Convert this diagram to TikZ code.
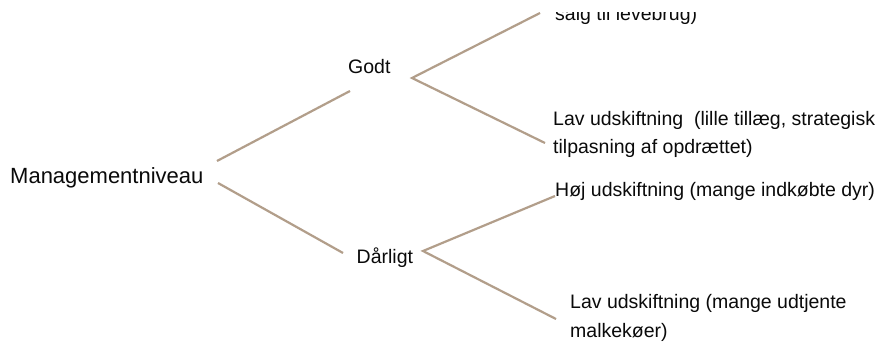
\documentclass[tikz,border=0pt]{standalone}
\usepackage{fontspec}
\setmainfont{Liberation Sans}
\definecolor{branch}{RGB}{178,158,138}
\definecolor{labeltext}{RGB}{10,10,10}
\begin{document}
\begin{tikzpicture}[x=1pt,y=-1pt,
  edge/.style={draw=branch,line width=2.2pt},
  lbl/.style={anchor=base west,inner sep=0pt,text=labeltext,font=\fontsize{19.5}{23}\selectfont},
  rootlbl/.style={lbl,font=\fontsize{22}{26}\selectfont}]
\useasboundingbox (0,0) rectangle (882,342);
\fill[white] (0,0) rectangle (882,342);

% labels
\node[rootlbl] (root) at (10,183) {Managementniveau};
\node[lbl] (godt) at (348,74) {Godt};
\node[lbl] (darligt) at (356.5,263.5) {Dårligt};
\begin{scope}
  \clip (0,13) rectangle (882,342);
  \node[lbl] (salg) at (555,21) {salg til levebrug)};
\end{scope}
\node[lbl] (lavA1) at (553,125.5) {Lav udskiftning \ (lille tillæg, strategisk};
\node[lbl] (lavA2) at (553,153.5) {tilpasning af opdrættet)};
\node[lbl] (hoj) at (555,196.5) {Høj udskiftning (mange indkøbte dyr)};
\node[lbl] (lavB1) at (570,308.5) {Lav udskiftning (mange udtjente};
\node[lbl] (lavB2) at (570,337) {malkekøer)};

% branch end points
\coordinate (rootUp) at (217,161);
\coordinate (rootDown) at (218,183);
\coordinate (godtIn) at (350,91);
\coordinate (darligtIn) at (343,253);
\coordinate (godtFork) at (412,78);
\coordinate (godtUp) at (540,13);
\coordinate (godtDown) at (545,143);
\coordinate (darligtFork) at (423,251);
\coordinate (darligtUp) at (555,196);
\coordinate (darligtDown) at (556,319);

% branches
\draw[edge] (rootUp) -- (godtIn);
\draw[edge] (rootDown) -- (darligtIn);
\draw[edge] (godtUp) -- (godtFork) -- (godtDown);
\draw[edge] (darligtUp) -- (darligtFork) -- (darligtDown);
\end{tikzpicture}
\end{document}
